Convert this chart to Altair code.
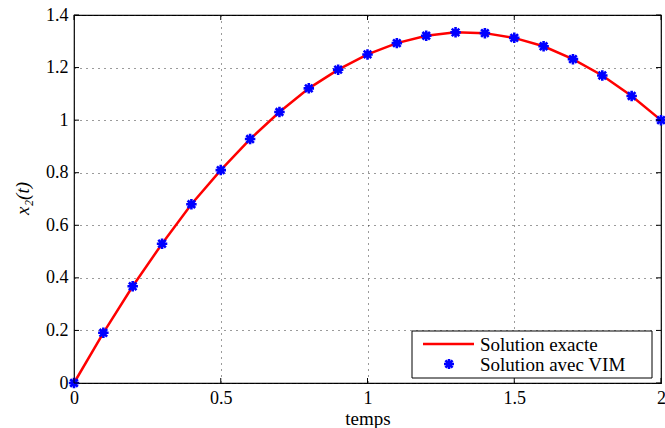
import altair as alt
import pandas as pd

# ---- data ----
t_values = [0.0, 0.1, 0.2, 0.3, 0.4, 0.5, 0.6, 0.7, 0.8, 0.9, 1.0,
            1.1, 1.2, 1.3, 1.4, 1.5, 1.6, 1.7, 1.8, 1.9, 2.0]
x2_values = [0.0, 0.191, 0.368, 0.530, 0.680, 0.810, 0.928, 1.031, 1.121, 1.192, 1.250,
             1.293, 1.321, 1.334, 1.331, 1.313, 1.281, 1.232, 1.170, 1.092, 1.0]
x_ticks = [0, 0.5, 1, 1.5, 2]
y_ticks = [0, 0.2, 0.4, 0.6, 0.8, 1.0, 1.2, 1.4]
series_labels = ["Solution exacte", "Solution avec VIM"]
x_title = "temps"
y_title = "x\u2082(t)"

W, H = 587, 368
FONT = "Liberation Serif"
FS_LABEL = 18
FS_TEXT = 19
ASTERISK = "M-1,0L1,0M0,-1L0,1M-0.72,-0.72L0.72,0.72M-0.72,0.72L0.72,-0.72"

df = pd.DataFrame({"t": t_values, "x2": x2_values})
xt = pd.DataFrame({"t": x_ticks})
yt = pd.DataFrame({"x2": y_ticks})
one = pd.DataFrame({"k": [0]})

xs = alt.Scale(domain=[0, 2], nice=False, zero=False)
ys = alt.Scale(domain=[0, 1.4], nice=False, zero=False)

axis_common = dict(
    grid=True, gridColor="#222222", gridDash=[1, 5], gridWidth=1, gridOpacity=0.9,
    tickSize=0, domain=False, labelFont=FONT, labelFontSize=FS_LABEL, labelColor="black",
    labelFlush=False, labelOverlap=False, labelBound=False,
    titleFont=FONT, titleFontSize=FS_TEXT, titleFontWeight="normal", titleColor="black",
    format="~g",
)
x_axis = alt.Axis(values=x_ticks, title=x_title, labelPadding=6,
                  titleX=W / 2, titleY=41, titleBaseline="alphabetic", titleAlign="center",
                  **axis_common)
y_axis = alt.Axis(values=y_ticks, title=y_title, labelPadding=6,
                  titleX=-52, titleY=183, titleAngle=270, titleBaseline="middle",
                  titleAlign="center", titleFontStyle="italic", **axis_common)

X = alt.X("t:Q", scale=xs, axis=x_axis, title=x_title)
Y = alt.Y("x2:Q", scale=ys, axis=y_axis, title=y_title)

line = alt.Chart(df).mark_line(color="red", strokeWidth=2.5).encode(x=X, y=Y)

points = alt.Chart(df).mark_point(shape=ASTERISK, filled=False, color="blue",
                                  strokeWidth=2.6, size=110, opacity=1).encode(x=X, y=Y)

tick_len = 5
bottom_ticks = alt.Chart(xt).mark_rule(color="black", strokeWidth=1).encode(
    x=X, y=alt.value(H), y2=alt.value(H - tick_len))
top_ticks = alt.Chart(xt).mark_rule(color="black", strokeWidth=1).encode(
    x=X, y=alt.value(0), y2=alt.value(tick_len))
left_ticks = alt.Chart(yt).mark_rule(color="black", strokeWidth=1).encode(
    y=Y, x=alt.value(0), x2=alt.value(tick_len))
right_ticks = alt.Chart(yt).mark_rule(color="black", strokeWidth=1).encode(
    y=Y, x=alt.value(W), x2=alt.value(W - tick_len))

# ---- legend (drawn manually) ----
legend_box = alt.Chart(one).mark_rect(fill="white", stroke="black", strokeWidth=1).encode(
    x=alt.value(338), x2=alt.value(578), y=alt.value(316), y2=alt.value(363))
legend_line = alt.Chart(one).mark_rule(color="red", strokeWidth=2.5).encode(
    x=alt.value(349), x2=alt.value(400), y=alt.value(329))
legend_star = alt.Chart(one).mark_point(shape=ASTERISK, filled=False, color="blue",
                                        strokeWidth=2.6, size=100, opacity=1).encode(
    x=alt.value(375), y=alt.value(349))
legend_t1 = alt.Chart(one).mark_text(font=FONT, fontSize=FS_TEXT, align="left",
                                     baseline="middle", color="black").encode(
    x=alt.value(406), y=alt.value(330), text=alt.value(series_labels[0]))
legend_t2 = alt.Chart(one).mark_text(font=FONT, fontSize=FS_TEXT, align="left",
                                     baseline="middle", color="black").encode(
    x=alt.value(406), y=alt.value(350), text=alt.value(series_labels[1]))

chart = alt.layer(
    line, points, bottom_ticks, top_ticks, left_ticks, right_ticks,
    legend_box, legend_line, legend_star, legend_t1, legend_t2,
).properties(
    width=W, height=H,
    autosize=alt.AutoSizeParams(type="none"),
    padding={"left": 74, "top": 15, "right": 4, "bottom": 45},
    background="white",
).configure_view(stroke="black", strokeWidth=1.2)

chart.save("out.html", embed_options={"renderer": "svg", "actions": False})
